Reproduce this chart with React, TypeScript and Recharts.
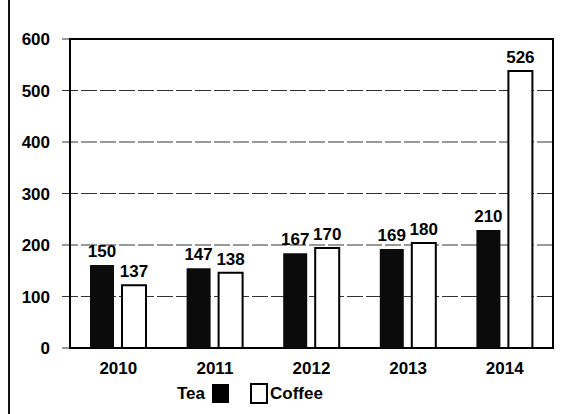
import { BarChart, Bar, XAxis, YAxis, CartesianGrid, ReferenceArea, LabelList } from "recharts";

const years = ["2010", "2011", "2012", "2013", "2014"];
// bar heights as drawn in the picture (the printed labels differ)
const teaHeights = [161, 155, 184, 192, 229];
const coffeeHeights = [122, 146, 194, 204, 538];
// numbers printed above the bars
const teaLabels = ["150", "147", "167", "169", "210"];
const coffeeLabels = ["137", "138", "170", "180", "526"];
const yTicks = [0, 100, 200, 300, 400, 500, 600];

const FONT = '"Liberation Sans", Arial, sans-serif';

const data = years.map((year, i) => ({
  year,
  tea: teaHeights[i],
  coffee: coffeeHeights[i],
  teaLabel: teaLabels[i],
  coffeeLabel: coffeeLabels[i],
}));

/* eslint-disable @typescript-eslint/no-explicit-any */
function renderValue(props: any) {
  const { x, y, width, value } = props;
  return (
    <text
      x={Number(x) + Number(width) / 2}
      y={Number(y) - 8}
      textAnchor="middle"
      fontFamily={FONT}
      fontWeight="bold"
      fontSize={17}
      fill="#000"
    >
      {value}
    </text>
  );
}
/* eslint-enable @typescript-eslint/no-explicit-any */

const tickStyle = { fontFamily: FONT, fontWeight: "bold", fontSize: 17, fill: "#000" };

export default function App() {
  return (
    <div style={{ position: "absolute", left: 0, top: 0, width: 566, height: 414, background: "#fff", fontFamily: FONT }}>
      <div style={{ position: "absolute", left: 8, top: 0, width: 2, height: 414, background: "#111" }} />
      <BarChart
        width={566}
        height={414}
        data={data}
        margin={{ top: 39, right: 10, bottom: 36, left: 0 }}
        barGap={8}
        barSize={24}
      >
        <CartesianGrid vertical={false} stroke="#333" strokeDasharray="16 3" strokeWidth={1} />
        <XAxis
          dataKey="year"
          axisLine={false}
          tickLine={false}
          tick={tickStyle}
          tickMargin={8}
          height={30}
          padding={{ left: 8, right: 3 }}
        />
        <YAxis
          domain={[0, 600]}
          ticks={yTicks}
          axisLine={false}
          tickLine={false}
          tickSize={0}
          tickMargin={12}
          tick={tickStyle}
          width={62}
        />
        <Bar dataKey="tea" fill="#0b0b0b" isAnimationActive={false}>
          <LabelList dataKey="teaLabel" content={renderValue} />
        </Bar>
        <Bar dataKey="coffee" fill="#fff" stroke="#000" strokeWidth={2} isAnimationActive={false}>
          <LabelList dataKey="coffeeLabel" content={renderValue} />
        </Bar>
        <ReferenceArea y1={0} y2={600} fill="none" stroke="#000" strokeWidth={2} ifOverflow="visible" />
      </BarChart>
      <div
        style={{
          position: "absolute",
          left: 177,
          top: 383,
          display: "flex",
          alignItems: "center",
          fontWeight: "bold",
          fontSize: 17,
          color: "#000",
          lineHeight: "20px",
        }}
      >
        <span>Tea</span>
        <span style={{ display: "inline-block", width: 17, height: 19, background: "#000", marginLeft: 7 }} />
        <span style={{ display: "inline-block", width: 14, height: 17, border: "2px solid #000", marginLeft: 21 }} />
        <span style={{ marginLeft: 2 }}>Coffee</span>
      </div>
    </div>
  );
}
